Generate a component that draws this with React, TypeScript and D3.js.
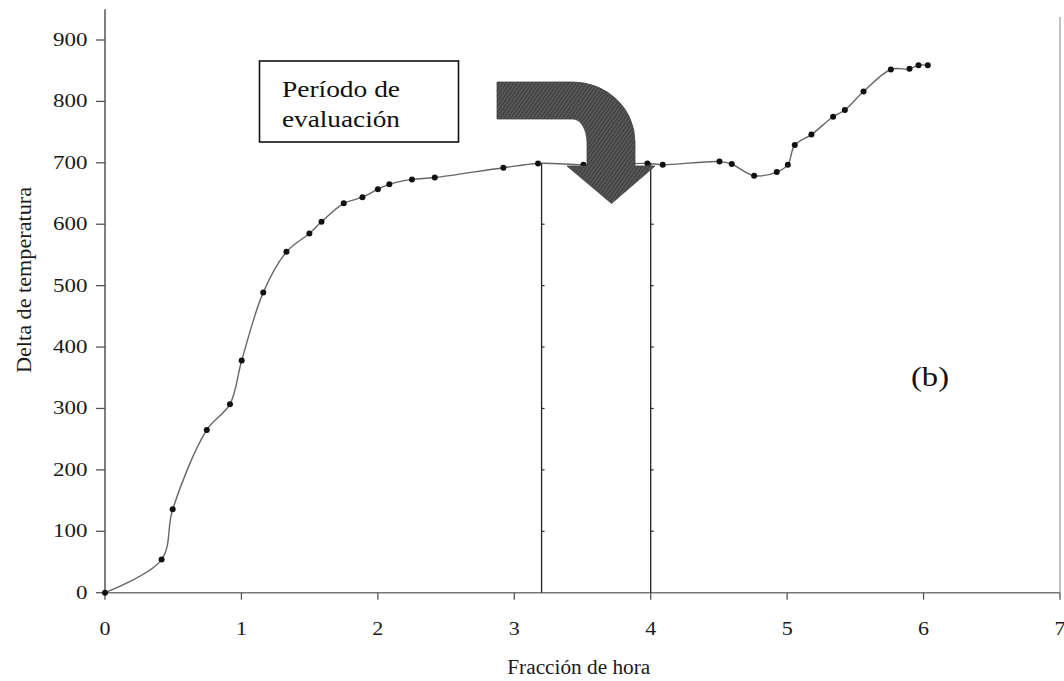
import * as d3 from "d3";

// Fracción de hora vs Delta de temperatura
const horas = [0, 0.415, 0.496, 0.746, 0.916, 1.002, 1.16, 1.33, 1.498, 1.587, 1.75, 1.887, 2.0, 2.084, 2.25, 2.417, 2.92, 3.174, 3.507, 3.976, 4.088, 4.504, 4.594, 4.758, 4.924, 5.005, 5.056, 5.178, 5.337, 5.423, 5.56, 5.76, 5.897, 5.963, 6.031];
const deltas = [0, 54, 136, 265, 307, 378, 489, 555, 585, 604, 634, 644, 657, 665, 673, 676, 692, 699, 697, 699, 697, 702, 698, 679, 685, 697, 729, 746, 775, 786, 816, 852, 853, 859, 859];

const xTicks = [0, 1, 2, 3, 4, 5, 6, 7];
const yTicks = [0, 100, 200, 300, 400, 500, 600, 700, 800, 900];

// evaluation window limits (vertical lines)
const periodo = [3.2, 4.0];
const periodoTop = 700;
const periodoMarks = [100, 200, 300, 400, 500, 600];

const boxLines = ["Período de", "evaluación"];

const W = 1064;
const H = 681;

export default function App() {
  const x = d3.scaleLinear().domain([0, 7]).range([105, 1060]);
  const y = d3.scaleLinear().domain([0, 900]).range([592.7, 40]);

  const pts: [number, number][] = horas.map((h, i) => [h, deltas[i]]);

  const line = d3
    .line<[number, number]>()
    .x((d) => x(d[0]))
    .y((d) => y(d[1]))
    .curve(d3.curveCatmullRom.alpha(0.5));

  const font = '"Liberation Serif", "Times New Roman", Tinos, Times, serif';

  return (
    <svg
      width={W}
      height={H}
      style={{ position: "absolute", left: 0, top: 0, background: "#fff", fontFamily: font }}
    >
      <defs>
        <pattern id="hatch" width="3" height="3" patternUnits="userSpaceOnUse" patternTransform="rotate(35)">
          <rect width="3" height="3" fill="#575757" />
          <line x1="0" y1="0" x2="0" y2="3" stroke="#2e2e2e" strokeWidth="1.4" />
        </pattern>
      </defs>

      {/* right frame line */}
      <line x1={x(7)} x2={x(7)} y1={17} y2={y(0)} stroke="#9a9a9a" strokeWidth={1.2} />

      {/* y axis */}
      <line x1={x(0)} x2={x(0)} y1={y(950)} y2={y(0)} stroke="#555" strokeWidth={1.5} />
      {yTicks.map((t) => (
        <g key={`y-${t}`}>
          <line x1={x(0) - 9} x2={x(0)} y1={y(t)} y2={y(t)} stroke="#555" strokeWidth={1.3} />
          <text
            x={87.5}
            y={y(t) + 6}
            textAnchor="end"
            fontSize={18}
            fill="#1a1a1a"
            textLength={String(t).length * 11.5}
            lengthAdjust="spacingAndGlyphs"
          >
            {t}
          </text>
        </g>
      ))}

      {/* x axis */}
      <line x1={x(0)} x2={x(7)} y1={y(0)} y2={y(0)} stroke="#777" strokeWidth={1.6} />
      {xTicks.map((t) => (
        <g key={`x-${t}`}>
          <line x1={x(t)} x2={x(t)} y1={y(0)} y2={y(0) + 7} stroke="#555" strokeWidth={1.3} />
          <text
            x={x(t)}
            y={635}
            textAnchor="middle"
            fontSize={18}
            fill="#1a1a1a"
            textLength={11}
            lengthAdjust="spacingAndGlyphs"
          >
            {t}
          </text>
        </g>
      ))}

      {/* axis titles */}
      <text
        x={x(3) - 7}
        y={674}
        fontSize={20}
        fill="#1a1a1a"
        textLength={143}
        lengthAdjust="spacingAndGlyphs"
      >
        Fracción de hora
      </text>
      <text
        transform={`translate(31,373) rotate(-90)`}
        fontSize={20}
        fill="#1a1a1a"
        textLength={186}
        lengthAdjust="spacingAndGlyphs"
      >
        Delta de temperatura
      </text>

      {/* evaluation period lines */}
      {periodo.map((p) => (
        <g key={`p-${p}`}>
          <line x1={x(p)} x2={x(p)} y1={y(periodoTop)} y2={y(0)} stroke="#222" strokeWidth={1.3} />
          {periodoMarks.map((m) => (
            <line key={`pm-${p}-${m}`} x1={x(p)} x2={x(p) + 3} y1={y(m)} y2={y(m)} stroke="#333" strokeWidth={1.2} />
          ))}
        </g>
      ))}

      {/* data */}
      <path d={line(pts) || ""} fill="none" stroke="#666" strokeWidth={1.4} />
      {pts.map((d, i) => (
        <circle key={`pt-${i}`} cx={x(d[0])} cy={y(d[1])} r={3} fill="#111" />
      ))}

      {/* curved arrow */}
      <path
        d="M497,82 L573,82 A62,60 0 0 1 635,142 L635,166 L655,166 L611.5,203.5 L567,166 L587,166 L587,143 A14,24 0 0 0 573,119 L497,119 Z"
        fill="url(#hatch)"
        stroke="#444"
        strokeWidth={0.8}
      />

      {/* label box */}
      <rect x={259.5} y={61} width={199} height={81} fill="#fff" stroke="#111" strokeWidth={1.6} />
      {boxLines.map((s, i) => (
        <text
          key={`bl-${i}`}
          x={282}
          y={97 + i * 30}
          fontSize={24}
          fill="#111"
          textLength={118}
          lengthAdjust="spacingAndGlyphs"
        >
          {s}
        </text>
      ))}

      <text x={911} y={386} fontSize={28} fill="#111" textLength={38} lengthAdjust="spacingAndGlyphs">
        (b)
      </text>
    </svg>
  );
}
